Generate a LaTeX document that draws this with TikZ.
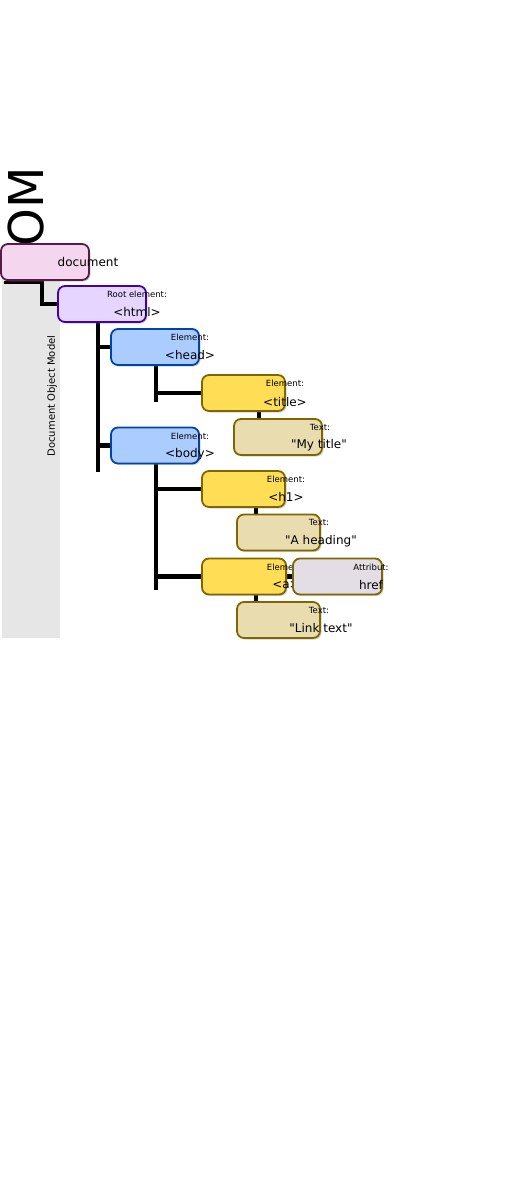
\documentclass[tikz,border=0pt]{standalone}
\usepackage{fontspec}
\setmainfont{DejaVu Sans}
\usetikzlibrary{shadows,backgrounds}

\definecolor{bandgray}{HTML}{E6E6E6}
\definecolor{docfill}{HTML}{F4D7EE}
\definecolor{docline}{HTML}{5A1A4A}
\definecolor{htmlfill}{HTML}{E5D5FF}
\definecolor{htmlline}{HTML}{4400AA}
\definecolor{headfill}{HTML}{AACCFF}
\definecolor{headline}{HTML}{0044AA}
\definecolor{elemfill}{HTML}{FFDD55}
\definecolor{textfill}{HTML}{E9DDAF}
\definecolor{attrfill}{HTML}{E3DDE5}
\definecolor{olive}{HTML}{806600}

\tikzset{
  box/.style={draw, line width=1.8pt, rounded corners=7pt, minimum height=36pt,
    inner sep=0pt, drop shadow={shadow xshift=1.5pt, shadow yshift=-1.5pt, opacity=0.35}},
  docbox/.style={box, fill=docfill, draw=docline},
  rootbox/.style={box, fill=htmlfill, draw=htmlline},
  headbox/.style={box, fill=headfill, draw=headline},
  elembox/.style={box, fill=elemfill, draw=olive},
  textbox/.style={box, fill=textfill, draw=olive},
  attrbox/.style={box, fill=attrfill, draw=olive},
  kind/.style={inner sep=0pt, font=\fontsize{8.5}{9}\selectfont},
  tag/.style={inner sep=0pt, font=\fontsize{12}{13}\selectfont},
  link/.style={line width=4.5pt},
}

\begin{document}
\begin{tikzpicture}[x=1pt,y=-1pt]
    \useasboundingbox (0,0) rectangle (512,1203);

    % --- document ---
    \node[docbox, minimum width=88pt] (document) at (45,262) {};
    \node[tag] (documentTag) at (88,262) {document};

    % --- html ---
    \node[rootbox, minimum width=88pt] (html) at (102,304) {};
    \node[kind] (htmlKind) at (137,294) {Root element:};
    \node[tag] (htmlTag) at (137,312) {<html>};

    % --- head ---
    \node[headbox, minimum width=88pt] (head) at (155,347) {};
    \node[kind] (headKind) at (190,337) {Element:};
    \node[tag] (headTag) at (190,355) {<head>};

    % --- title ---
    \node[elembox, minimum width=83pt] (title) at (243.5,393) {};
    \node[kind] (titleKind) at (285,383) {Element:};
    \node[tag] (titleTag) at (285,402) {<title>};
    \node[textbox, minimum width=88pt] (mytitle) at (278,437) {};
    \node[kind] (mytitleKind) at (320,427) {Text:};
    \node[tag] (mytitleTag) at (319,445) {\textquotedbl My title\textquotedbl};

    % --- body ---
    \node[headbox, minimum width=88pt] (body) at (155,445.5) {};
    \node[kind] (bodyKind) at (190,436) {Element:};
    \node[tag] (bodyTag) at (190,454) {<body>};

    % --- h1 ---
    \node[elembox, minimum width=83pt] (h1) at (243.5,489) {};
    \node[kind] (h1Kind) at (286,479) {Element:};
    \node[tag] (h1Tag) at (286,497) {<h1>};
    \node[textbox, minimum width=83pt] (heading) at (278.5,532.5) {};
    \node[kind] (headingKind) at (319,522) {Text:};
    \node[tag] (headingTag) at (321,541) {\textquotedbl A heading\textquotedbl};

    % --- a ---
    \node[elembox, minimum width=84pt] (anchor) at (244,576.5) {};
    \node[kind] (anchorKind) at (286,567) {Element:};
    \node[tag] (anchorTag) at (286,585) {<a>};
    \node[attrbox, minimum width=89pt] (href) at (337.5,576.5) {};
    \node[kind] (hrefKind) at (371,567) {Attribut:};
    \node[tag] (hrefTag) at (371,585) {href};
    \node[textbox, minimum width=83pt] (linktext) at (278.5,620) {};
    \node[kind] (linktextKind) at (319,610) {Text:};
    \node[tag] (linktextTag) at (321,628) {\textquotedbl Link text\textquotedbl};

    \begin{scope}[on background layer]
      % --- Side band ---
      \fill[bandgray] (2,270) rectangle (60,638);
      \node[rotate=90, anchor=base, inner sep=0pt, font=\fontsize{48}{48}\selectfont] (domtitle) at (43,225) {DOM};
      \node[rotate=90, inner sep=0pt, font=\fontsize{10}{11}\selectfont] (domname) at (52,396) {Document Object Model};

      % --- Connectors ---
      \coordinate (docknee) at (42,282);
      \coordinate (htmlend) at (98,472);
      \coordinate (headend) at (156,402);
      \coordinate (bodyend) at (156,590);
      \draw[link] ([xshift=6pt]document.south west) |- (docknee) |- (html.west);
      \draw[link] (html.south -| htmlend) -- (htmlend);
      \draw[link] (head.west) -- (head.west -| htmlend);
      \draw[link] (body.west) -- (body.west -| htmlend);
      \draw[link] (head.south -| headend) -- (headend);
      \draw[link] (title.west -| headend) -- (title.west);
      \draw[link] ([xshift=15.5pt]title.south) -- ([xshift=15.5pt]title.south |- mytitle.north);
      \draw[link] (body.south -| bodyend) -- (bodyend);
      \draw[link] (h1.west -| bodyend) -- (h1.west);
      \draw[link] ([xshift=12.5pt]h1.south) -- ([xshift=12.5pt]h1.south |- heading.north);
      \draw[link] (anchor.west -| bodyend) -- (anchor.west);
      \draw[link] (anchor.east) -- (href.west);
      \draw[link] ([xshift=12pt]anchor.south) -- ([xshift=12pt]anchor.south |- linktext.north);
    \end{scope}

\end{tikzpicture}
\end{document}
